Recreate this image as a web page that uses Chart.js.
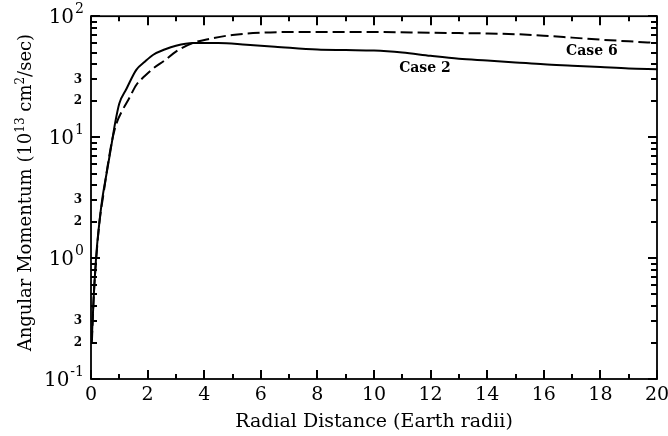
<!DOCTYPE html>
<html>
<head>
<meta charset="utf-8">
<script src="https://cdn.jsdelivr.net/npm/chart.js@4.4.0/dist/chart.umd.min.js"></script>
<style>
  html, body { margin: 0; padding: 0; background: #fff; }
  #wrap { width: 668px; height: 436px; }
</style>
</head>
<body>
<div id="wrap"><canvas id="amChart"></canvas></div>
<script>
// values
const case2X = [0.03, 0.1, 0.2, 0.3, 0.4, 0.55, 0.7, 0.85, 1.0, 1.25, 1.6, 1.9, 2.2, 2.6, 3.0, 3.6, 4.5, 5.5, 6.5, 8, 9, 10, 11, 12, 13, 14, 15, 16, 17, 18, 19, 20];
const case2Y = [0.22, 0.5, 1.16, 2.0, 3.1, 5.0, 8.0, 13, 19, 25, 36, 42, 48, 53, 57, 60, 60, 58, 56, 53, 52.5, 52, 50, 47, 44.5, 43, 41.5, 40, 39, 38, 37, 36.5];

const case6X = [0.03, 0.1, 0.2, 0.3, 0.45, 0.6, 0.75, 0.9, 1.1, 1.35, 1.6, 1.9, 2.2, 2.6, 3.0, 3.6, 4.2, 5, 6, 7, 8, 10, 12, 13, 14, 15, 16, 17, 18, 19, 20];
const case6Y = [0.2, 0.5, 1.1, 2.0, 3.5, 6.0, 9.5, 13, 16.5, 21, 27, 32, 37, 43, 51, 60, 65, 70, 73, 74, 74, 74, 73, 72.5, 72, 71, 69, 66.5, 64, 62, 60];

const xTicks = [0, 2, 4, 6, 8, 10, 12, 14, 16, 18, 20];
const xMinorTicks = [1, 3, 5, 7, 9, 11, 13, 15, 17, 19];
const yDecades = [0.1, 1, 10, 100];
const yDecadeExp = ["-1", "0", "1", "2"];
const yMinorTicks = [0.2, 0.3, 0.4, 0.5, 0.6, 0.7, 0.8, 0.9, 2, 3, 4, 5, 6, 7, 8, 9, 20, 30, 40, 50, 60, 70, 80, 90];
const yMinorLabeled = [0.2, 0.3, 2, 3, 20, 30];

const annotations = [
  { text: "Case 6", x: 17.7, y: 51.5 },
  { text: "Case 2", x: 11.8, y: 37.3 }
];

// y title pieces: [text, superscript?]
const yTitleParts = [["Angular Momentum (10", false], ["13", true], [" cm", false], ["2", true], ["/sec)", false]];

const SERIF = "'DejaVu Serif', 'Liberation Serif', serif";

function toPoints(xs, ys) {
  return xs.map((x, i) => ({ x: x, y: ys[i] }));
}

// frame, inward ticks, decade labels, y title, curve labels
const framePlugin = {
  id: "frame",
  afterDraw(chart) {
    const ctx = chart.ctx;
    const a = chart.chartArea;
    const xs = chart.scales.x, ys = chart.scales.y;
    ctx.save();
    ctx.strokeStyle = "#000";
    ctx.lineWidth = 1.8;
    ctx.strokeRect(a.left, a.top, a.right - a.left, a.bottom - a.top);

    ctx.lineWidth = 2;
    function tick(x1, y1, x2, y2) {
      ctx.beginPath();
      ctx.moveTo(x1, y1);
      ctx.lineTo(x2, y2);
      ctx.stroke();
    }
    xTicks.forEach(v => {
      const px = Math.round(xs.getPixelForValue(v));
      tick(px, a.bottom, px, a.bottom - 9);
      tick(px, a.top, px, a.top + 9);
    });
    xMinorTicks.forEach(v => {
      const px = Math.round(xs.getPixelForValue(v));
      tick(px, a.bottom, px, a.bottom - 5);
      tick(px, a.top, px, a.top + 5);
    });
    yDecades.forEach(v => {
      const py = Math.round(ys.getPixelForValue(v));
      tick(a.left, py, a.left + 9, py);
      tick(a.right, py, a.right - 9, py);
    });
    yMinorTicks.forEach(v => {
      const py = Math.round(ys.getPixelForValue(v));
      tick(a.left, py, a.left + 6, py);
      tick(a.right, py, a.right - 6, py);
    });

    // 10^n labels
    ctx.fillStyle = "#000";
    ctx.textBaseline = "middle";
    yDecades.forEach((v, i) => {
      const py = ys.getPixelForValue(v);
      ctx.font = "14px " + SERIF;
      ctx.textAlign = "right";
      const expW = ctx.measureText(yDecadeExp[i]).width;
      const right = a.left - 7;
      ctx.fillText(yDecadeExp[i], right, py - 7);
      ctx.font = "20px " + SERIF;
      ctx.fillText("10", right - expW - 1, py + 2);
    });

    // y title, rotated, with real superscripts
    const big = "18px " + SERIF, small = "12px " + SERIF;
    let total = 0;
    yTitleParts.forEach(p => { ctx.font = p[1] ? small : big; total += ctx.measureText(p[0]).width; });
    ctx.translate(25, (a.top + a.bottom) / 2 - 5);
    ctx.rotate(-Math.PI / 2);
    ctx.textAlign = "left";
    ctx.textBaseline = "alphabetic";
    let cx = -total / 2;
    yTitleParts.forEach(p => {
      ctx.font = p[1] ? small : big;
      ctx.fillText(p[0], cx, p[1] ? -1 : 6);
      cx += ctx.measureText(p[0]).width;
    });
    ctx.setTransform(1, 0, 0, 1, 0, 0);

    ctx.font = "bold 14px " + SERIF;
    ctx.textAlign = "center";
    ctx.textBaseline = "middle";
    annotations.forEach(t => {
      ctx.fillText(t.text, xs.getPixelForValue(t.x), ys.getPixelForValue(t.y));
    });
    ctx.restore();
  }
};

new Chart(document.getElementById("amChart"), {
  type: "line",
  data: {
    datasets: [
      {
        label: "Case 2",
        data: toPoints(case2X, case2Y),
        borderColor: "#000",
        borderWidth: 2,
        pointRadius: 0,
        cubicInterpolationMode: "monotone",
        fill: false
      },
      {
        label: "Case 6",
        data: toPoints(case6X, case6Y),
        borderColor: "#000",
        borderWidth: 2,
        borderDash: [12, 5],
        pointRadius: 0,
        cubicInterpolationMode: "monotone",
        fill: false
      }
    ]
  },
  options: {
    responsive: true,
    maintainAspectRatio: false,
    animation: false,
    layout: { padding: { left: 0, right: 11, top: 12, bottom: 0 } },
    plugins: { legend: { display: false }, tooltip: { enabled: false } },
    scales: {
      x: {
        type: "linear",
        min: 0,
        max: 20,
        grid: { display: false, drawTicks: false },
        border: { display: false },
        afterBuildTicks: scale => { scale.ticks = xTicks.map(v => ({ value: v })); },
        afterFit: scale => { scale.height = 57; scale.paddingRight = 0; scale.paddingLeft = 0; },
        ticks: {
          color: "#000",
          padding: 5,
          maxRotation: 0,
          font: { family: SERIF, size: 19 }
        },
        title: {
          display: true,
          text: "Radial Distance (Earth radii)",
          color: "#000",
          font: { family: SERIF, size: 19 },
          padding: { top: 0, bottom: 3 }
        }
      },
      y: {
        type: "logarithmic",
        min: 0.1,
        max: 100,
        grid: { display: false, drawTicks: false },
        border: { display: false },
        afterBuildTicks: scale => {
          scale.ticks = yDecades.concat(yMinorTicks).sort((p, q) => p - q).map(v => ({ value: v }));
        },
        afterFit: scale => { scale.width = 91; },
        ticks: {
          color: "#000",
          padding: 9,
          autoSkip: false,
          font: { family: SERIF, size: 12, weight: "bold" },
          callback: v => yMinorLabeled.includes(v) ? String(Math.round(v / Math.pow(10, Math.floor(Math.log10(v) + 1e-9)))) : ""
        }
      }
    }
  },
  plugins: [framePlugin]
});
</script>
</body>
</html>
